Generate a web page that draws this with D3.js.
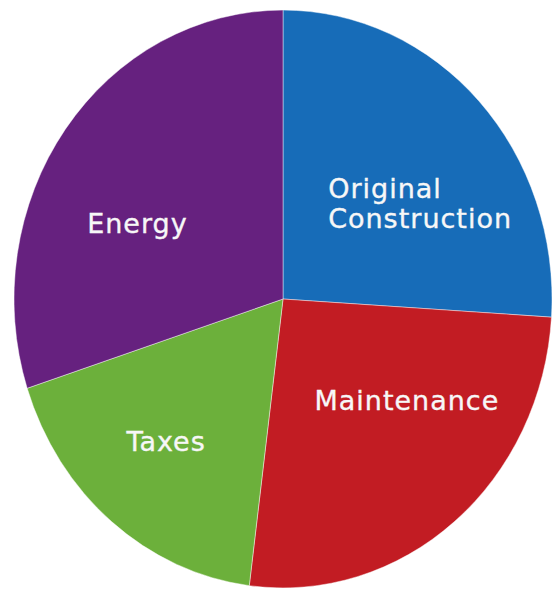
<!DOCTYPE html>
<html>
<head>
<meta charset="utf-8">
<script src="https://cdn.jsdelivr.net/npm/d3@7"></script>
<style>
  html, body { margin: 0; padding: 0; background: #ffffff; }
  svg { display: block; }
  .slice-label {
    font-family: "DejaVu Sans", "Open Sans", sans-serif;
    font-size: 27px;
    letter-spacing: 1px;
    fill: #f7f7f7;
    stroke: #f7f7f7;
    stroke-width: 0.35px;
  }
</style>
</head>
<body>
<svg id="chart" width="558" height="592"></svg>
<script>
// Lifetime cost shares of a building (percent)
const categories = ["Original Construction", "Maintenance", "Taxes", "Energy"];
const shares = [26, 26, 18, 30];
const colors = ["#176cb8", "#c21c23", "#6cb03b", "#66217f"];
// Label text, one entry per line
const labelLines = [["Original", "Construction"], ["Maintenance"], ["Taxes"], ["Energy"]];

const width = 558, height = 592;
const cx = 283, cy = 299;
const radius = 269;
const yStretch = 1.074;   // the pie is drawn slightly taller than wide

const data = categories.map((c, i) => ({ category: c, value: shares[i], color: colors[i], lines: labelLines[i] }));

const pie = d3.pie().value(d => d.value).sort(null);
const arcs = pie(data);

const arc = d3.arc().innerRadius(0).outerRadius(radius);
const labelArc = d3.arc().innerRadius(radius * 0.6).outerRadius(radius * 0.6);

const svg = d3.select("#chart");

const pieGroup = svg.append("g")
  .attr("transform", `translate(${cx},${cy}) scale(1,${yStretch})`);

pieGroup.selectAll("path")
  .data(arcs)
  .join("path")
  .attr("d", arc)
  .attr("fill", d => d.data.color)
  .attr("stroke", "rgba(255,255,255,0.55)")
  .attr("stroke-width", 0.8)
  .attr("vector-effect", "non-scaling-stroke");

// Nudges from each slice's label centroid to where its text sits
const labelNudge = [[18, 23], [21, -32], [-14, 9], [-15, 26]];
const lineHeight = 30;

const labels = svg.append("g");
arcs.forEach((a, i) => {
  const [lx, ly] = labelArc.centroid(a);
  const x = cx + lx + labelNudge[i][0];
  const y = cy + ly * yStretch + labelNudge[i][1];
  const lines = a.data.lines;
  const multi = lines.length > 1;
  const t = labels.append("text")
    .attr("class", "slice-label")
    .attr("text-anchor", multi ? "start" : "middle")
    .attr("x", x)
    .attr("y", y);
  // Multi-line labels are left aligned on a shared edge
  const blockWidth = multi ? 181 : 0;
  lines.forEach((line, j) => {
    t.append("tspan")
      .attr("x", multi ? x - blockWidth / 2 : x)
      .attr("y", y + (j - (lines.length - 1) / 2) * lineHeight)
      .attr("dy", "0.35em")
      .text(line);
  });
});
</script>
</body>
</html>
